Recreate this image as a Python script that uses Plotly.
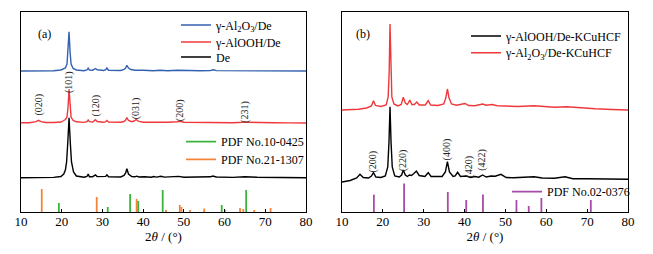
import plotly.graph_objects as go

# ---------------- data (a) ----------------
a_al2o3_x = [10, 14, 18, 19.8, 20.5, 20.9, 21.3, 21.55, 21.8, 22.05, 22.3, 22.8, 23.6, 25.5, 26.2, 26.5, 26.8, 27.6, 28.0, 28.3, 28.7, 30.3, 30.8, 31.1, 31.5, 34.5, 35.3, 35.7, 36.0, 36.4, 37.0, 38.0, 40, 42.5, 44.2, 46, 48.5, 50, 54, 56.5, 57.2, 58, 62, 64.8, 68, 72, 76, 80]
a_al2o3_y = [141, 141, 141.3, 142, 143.5, 144, 148, 160, 180.3, 160, 148, 143.5, 142, 141.3, 142, 144, 142, 141.8, 142.5, 143.5, 142.2, 141.5, 142.3, 144, 141.8, 141.5, 142.5, 144, 146.7, 144, 142.5, 141.8, 141.7, 141.3, 141.8, 141.3, 141.8, 141.5, 141.2, 141.4, 142.2, 141.4, 141.2, 141.7, 141.3, 141.2, 141, 141]

a_alooh_x = [10, 12, 13.7, 14.3, 14.9, 16, 18, 19.8, 20.5, 20.9, 21.3, 21.55, 21.8, 22.05, 22.3, 22.8, 23.6, 25.5, 26.2, 26.5, 26.8, 27.6, 28.0, 28.3, 28.7, 30.3, 30.8, 31.1, 31.5, 34.5, 35.3, 35.7, 36.0, 36.4, 37.2, 37.8, 38.3, 38.8, 40, 44, 46, 48.3, 49.1, 50, 54, 58, 62, 64.5, 65, 65.5, 68, 72, 76, 80]
a_alooh_y = [89.3, 89.3, 90.3, 91.7, 90.3, 89.5, 89.5, 90, 91.5, 92.5, 95, 105, 122.7, 105, 95, 91.5, 90.2, 89.6, 90.3, 92, 90.3, 90, 91, 92.3, 90.5, 89.7, 90.3, 91.5, 90, 89.8, 90.5, 92, 94.3, 91.5, 90.3, 91, 92.5, 90.8, 89.8, 89.6, 89.8, 90.2, 90.7, 89.8, 89.4, 89.5, 89.3, 89.8, 90.3, 89.7, 89.3, 89.2, 89.1, 89]

a_de_x = [10, 14, 18, 19.8, 20.5, 20.9, 21.2, 21.5, 21.8, 22.1, 22.4, 22.9, 23.6, 25.5, 26.2, 26.5, 26.8, 27.6, 28.0, 28.3, 28.7, 30.3, 30.8, 31.1, 31.5, 34.5, 35.3, 35.7, 36.0, 36.4, 37.2, 38, 38.4, 39, 40.3, 42, 42.6, 43.3, 44.4, 45.2, 47, 48.7, 50, 54, 56.5, 57.1, 58, 62, 65, 68, 72, 76, 80]
a_de_y = [34.3, 34.3, 34.6, 35.5, 38, 42, 50, 70, 94.3, 70, 50, 40, 36, 34.8, 35.5, 38, 35.3, 35.3, 36, 37, 35.4, 35, 35.6, 37.2, 35.2, 35, 36.5, 39, 43.3, 38, 35.5, 35.2, 35.8, 35, 35.3, 34.8, 35.5, 34.9, 35.7, 34.9, 35.3, 35.6, 34.8, 34.7, 35.2, 36, 35, 34.6, 35.2, 34.7, 34.5, 34.4, 34.3]

pdf_10_0425_x = [19.3, 31.3, 36.8, 38.8, 44.8, 59.3, 65.3]
pdf_10_0425_h = [9, 5, 18, 11, 22, 7, 22]
pdf_21_1307_x = [15.1, 28.6, 38.4, 45.6, 49.0, 49.4, 51.5, 55.0, 60.1, 63.8, 64.6, 67.3, 71.3]
pdf_21_1307_h = [23, 15, 13, 2, 7, 5, 2, 3.5, 2, 4, 3, 2, 4]

a_hkl = ["(020)", "(101)", "(120)", "(031)", "(200)", "(231)"]
a_hkl_x = [14.3, 21.8, 28.3, 38.3, 49.1, 65.0]
a_hkl_y = [107, 130, 106, 104, 102, 100]

# ---------------- data (b) ----------------
b_alooh_x = [10, 12, 13.6, 14.4, 15.2, 16.5, 17.2, 17.7, 18.3, 19.5, 20.6, 21.2, 21.5, 21.75, 22.0, 22.3, 22.9, 24.0, 24.6, 25.0, 25.5, 26.0, 26.5, 27.0, 27.6, 28.2, 28.9, 30.3, 31.1, 31.8, 34.5, 35.3, 35.8, 36.3, 37.2, 37.7, 38.3, 39.0, 40.5, 41.5, 42.5, 43.5, 44.4, 45.3, 46.5, 47.5, 48.9, 50.2, 52, 55, 57, 59, 62, 64.6, 66.5, 70, 75, 80]
b_alooh_y = [30, 31.5, 34, 37.7, 34.5, 34, 36, 39.3, 35, 34.5, 36, 45, 70, 105.3, 70, 45, 36, 35, 37, 42, 37, 35.5, 37, 36.5, 38.5, 41, 36.5, 35.5, 39.3, 35.5, 35.5, 40, 50.3, 40, 35.5, 36, 39.7, 35.5, 36, 34.5, 35.5, 34.8, 37, 35, 36, 35.8, 37.7, 34.5, 34.2, 34.5, 35.3, 34, 33.7, 35.3, 33.3, 33.2, 32.8, 32.7]

b_al2o3_x = [10, 12, 14, 16, 17.2, 17.7, 18.2, 19.5, 20.8, 21.3, 21.55, 21.75, 21.95, 22.2, 22.7, 23.7, 24.5, 25.0, 25.5, 26.0, 26.6, 27.1, 27.7, 28.3, 28.9, 30.4, 31.1, 31.7, 33.5, 34.9, 35.4, 35.8, 36.2, 36.8, 38, 40.1, 41, 42.5, 44.4, 45.3, 46.7, 48, 50, 53, 57, 60, 62, 65, 68, 72, 76, 80]
b_al2o3_y = [102, 102.3, 102.8, 104, 106, 111.3, 106.5, 105.5, 107, 115, 140, 188, 140, 115, 108, 106, 107.5, 114.7, 109, 107.5, 112, 107.5, 107.5, 110, 107, 107, 111.3, 107, 106.5, 108, 114, 123, 114, 108, 106.8, 108.5, 106.5, 106.3, 108, 106.8, 107.5, 106.2, 106, 105.5, 106.2, 105.3, 104.8, 105.3, 104.3, 103.2, 102.5, 102]

pdf_02_0376_x = [17.8, 25.2, 35.9, 40.4, 44.5, 52.7, 55.7, 58.8, 70.9]
pdf_02_0376_h = [17.4, 28.4, 20, 12, 17.4, 12, 6, 14, 12]

b_hkl = ["(200)", "(220)", "(400)", "(420)", "(422)"]
b_hkl_x = [17.7, 25.0, 35.8, 41.0, 44.2]
b_hkl_y = [51, 52, 63, 45, 52]

# ---------------- figure ----------------
W, H = 653, 254
SERIF = "Liberation Serif, Times New Roman, serif"
BLUE = "#3461b0"
RED = "#f0383c"
GREEN = "#3cb43c"
ORANGE = "#f4843c"
PURPLE = "#a84aa8"

fig = go.Figure()
legends = {}

def add_legend(key, text_x, row_y):
    legends[key] = dict(x=(text_x - 37) / W, y=1 - row_y / H, xanchor="left",
                        yanchor="middle", bgcolor="rgba(0,0,0,0)", borderwidth=0,
                        font=dict(family=SERIF, size=12, color="black"),
                        itemwidth=30, tracegroupgap=0)

def line(x, y, color, name, xa, ya, legend):
    fig.add_trace(go.Scatter(x=x, y=y, mode="lines", name=name,
                             line=dict(color=color, width=1.4),
                             xaxis=xa, yaxis=ya, legend=legend))

def sticks(pos, h, color, name, xa, ya, legend):
    xs, ys = [], []
    for p, v in zip(pos, h):
        xs += [p, p, None]
        ys += [0, v, None]
    fig.add_trace(go.Scatter(x=xs, y=ys, mode="lines", name=name,
                             line=dict(color=color, width=1.8),
                             xaxis=xa, yaxis=ya, legend=legend))

# panel (a)
line(a_al2o3_x, a_al2o3_y, BLUE, "γ-Al<sub>2</sub>O<sub>3</sub>/De", "x", "y", "legend")
line(a_alooh_x, a_alooh_y, RED, "γ-AlOOH/De", "x", "y", "legend2")
line(a_de_x, a_de_y, "black", "De", "x", "y", "legend3")
sticks(pdf_21_1307_x, pdf_21_1307_h, ORANGE, "PDF No.21-1307", "x", "y", "legend5")
sticks(pdf_10_0425_x, pdf_10_0425_h, GREEN, "PDF No.10-0425", "x", "y", "legend4")
add_legend("legend", 213, 25)
add_legend("legend2", 213, 42)
add_legend("legend3", 213, 57)
add_legend("legend4", 218, 141.7)
add_legend("legend5", 218, 159.3)

# panel (b)
line(b_alooh_x, b_alooh_y, "black", "γ-AlOOH/De-KCuHCF", "x2", "y2", "legend6")
line(b_al2o3_x, b_al2o3_y, RED, "γ-Al<sub>2</sub>O<sub>3</sub>/De-KCuHCF", "x2", "y2", "legend7")
sticks(pdf_02_0376_x, pdf_02_0376_h, PURPLE, "PDF No.02-0376", "x2", "y2", "legend8")
add_legend("legend6", 503, 36)
add_legend("legend7", 503, 52.7)
add_legend("legend8", 544, 191.7)

for txt, xx, yy in zip(a_hkl, a_hkl_x, a_hkl_y):
    fig.add_annotation(x=xx, y=yy, xref="x", yref="y", text=txt, textangle=-90,
                       showarrow=False, font=dict(family=SERIF, size=10, color="#222"))
for txt, xx, yy in zip(b_hkl, b_hkl_x, b_hkl_y):
    fig.add_annotation(x=xx, y=yy, xref="x2", yref="y2", text=txt, textangle=-90,
                       showarrow=False, font=dict(family=SERIF, size=10, color="#222"))

fig.add_annotation(x=36/W, y=1 - 25/H, xref="paper", yref="paper", text="(a)",
                   showarrow=False, font=dict(family=SERIF, size=12, color="black"))
fig.add_annotation(x=363/W, y=1 - 25/H, xref="paper", yref="paper", text="(b)",
                   showarrow=False, font=dict(family=SERIF, size=12, color="black"))

ydom = [42/H, 242/H]
xcommon = dict(range=[10, 80], dtick=10, tick0=10, ticks="inside", ticklen=3,
               tickcolor="black", showline=True, linecolor="black", linewidth=1.2,
               mirror=True, showgrid=False, zeroline=False, automargin=False,
               ticklabelstandoff=-3,
               tickfont=dict(family=SERIF, size=13, color="black"),
               title=dict(text="2<i>θ</i> / (°)", font=dict(family=SERIF, size=13, color="black"),
                          standoff=1))
ycommon = dict(range=[0, 200], domain=ydom, showticklabels=False, ticks="",
               showline=True, linecolor="black", linewidth=1.2, mirror=True,
               showgrid=False, zeroline=False, automargin=False)

fig.update_layout(
    width=W, height=H,
    margin=dict(l=0, r=0, t=0, b=0, autoexpand=False),
    plot_bgcolor="white", paper_bgcolor="white",
    xaxis=dict(domain=[21/W, 306/W], anchor="y", **xcommon),
    yaxis=dict(anchor="x", **ycommon),
    xaxis2=dict(domain=[342/W, 628/W], anchor="y2", **xcommon),
    yaxis2=dict(anchor="x2", **ycommon),
    showlegend=True,
    **legends,
)

fig.write_html("out.html", config={"displayModeBar": False},
               post_script="document.body.style.margin='0';document.body.style.padding='0';document.body.style.overflow='hidden';")
